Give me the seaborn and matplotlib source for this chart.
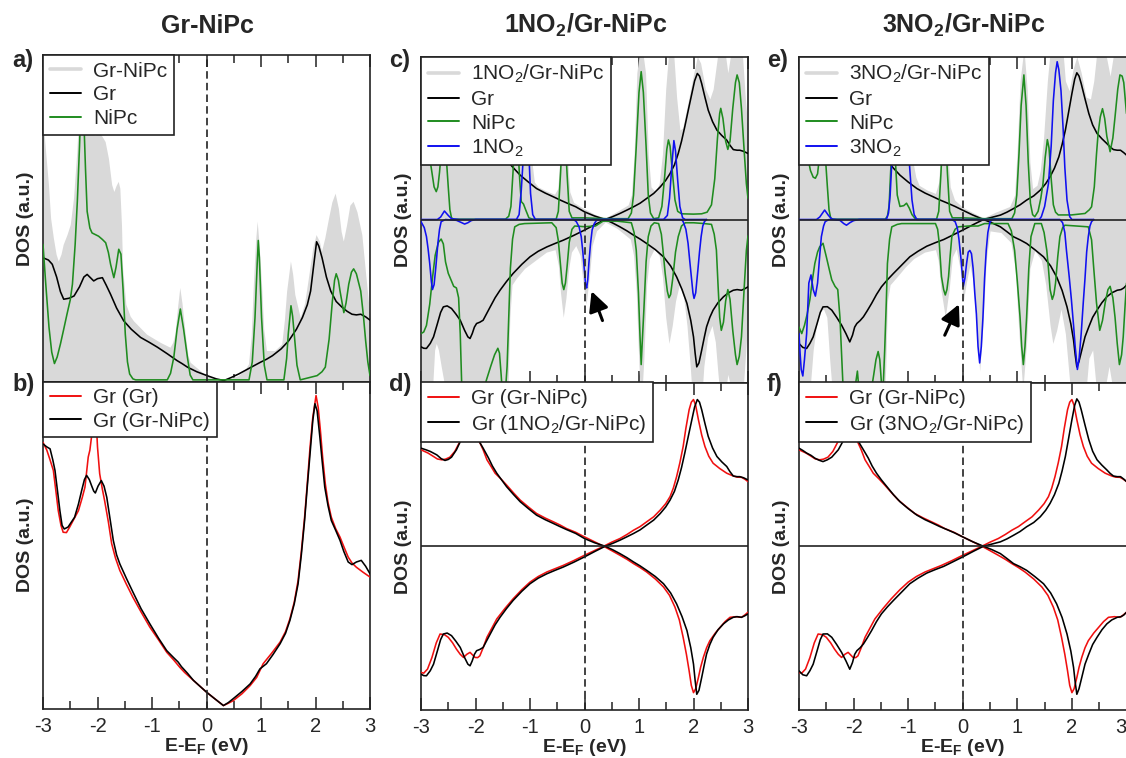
import numpy as np
import matplotlib
matplotlib.use("Agg")
import matplotlib.pyplot as plt
from matplotlib.lines import Line2D
from matplotlib.ticker import MultipleLocator, FixedLocator
import seaborn as sns

# ---------------------------------------------------------------- data
# energies E-E_F (eV) and DOS (arb. units); columns: (E, DOS)

# Gr-NiPc (spin-unpolarised)
a_total = np.array([
    (-3.00, 8.0), (-2.95, 7.0), (-2.90, 6.03), (-2.86, 5.0), (-2.81, 4.40), (-2.76, 3.9),
    (-2.72, 3.69), (-2.67, 3.9), (-2.63, 4.20), (-2.56, 4.5), (-2.50, 4.81), (-2.44, 5.62),
    (-2.38, 7.04), (-2.32, 9.0), (-2.27, 9.5), (-2.23, 8.0), (-2.14, 7.6), (-2.05, 7.55),
    (-1.95, 7.6), (-1.86, 7.35), (-1.80, 6.84), (-1.74, 6.03), (-1.70, 5.82), (-1.66, 6.0),
    (-1.62, 6.13), (-1.59, 5.92), (-1.56, 4.8), (-1.54, 3.49), (-1.48, 2.37), (-1.40, 2.0),
    (-1.34, 1.86), (-1.10, 1.45), (-0.85, 1.20), (-0.67, 1.05), (-0.62, 1.2), (-0.58, 1.45),
    (-0.53, 2.3), (-0.49, 2.88), (-0.45, 2.4), (-0.39, 1.45), (-0.34, 0.8), (-0.30, 0.59),
    (-0.12, 0.34), (0.00, 0.18), (0.31, 0.03), (0.58, 0.18), (0.70, 0.35), (0.77, 0.54),
    (0.82, 1.4), (0.86, 2.98), (0.90, 4.3), (0.93, 4.91), (0.96, 4.3), (1.01, 2.98),
    (1.05, 1.6), (1.10, 0.95), (1.25, 0.95), (1.38, 1.15), (1.43, 1.9), (1.47, 2.77),
    (1.54, 3.69), (1.58, 3.3), (1.62, 2.67), (1.72, 1.96), (1.80, 2.4), (1.87, 3.18),
    (1.95, 4.1), (2.01, 4.50), (2.07, 4.3), (2.11, 3.99), (2.17, 4.4), (2.24, 5.01),
    (2.30, 5.5), (2.36, 5.77), (2.42, 5.3), (2.47, 4.6), (2.51, 4.30), (2.57, 4.8),
    (2.63, 5.4), (2.69, 5.52), (2.76, 5.2), (2.85, 4.50), (2.92, 3.3), (3.00, 1.96)])

a_gr = np.array([
    (-3.00, 3.79), (-2.90, 3.72), (-2.83, 3.59), (-2.75, 3.2), (-2.68, 2.75), (-2.62, 2.52),
    (-2.52, 2.55), (-2.43, 2.62), (-2.33, 2.9), (-2.25, 3.2), (-2.19, 3.28), (-2.13, 3.18),
    (-2.07, 3.08), (-2.00, 3.15), (-1.91, 3.18), (-1.84, 2.95), (-1.76, 2.67), (-1.65, 2.25),
    (-1.52, 1.86), (-1.38, 1.6), (-1.21, 1.35), (-1.05, 1.2), (-0.90, 1.05), (-0.72, 0.85),
    (-0.54, 0.64), (-0.45, 0.55), (-0.35, 0.44), (-0.18, 0.3), (0.01, 0.18), (0.18, 0.08),
    (0.32, 0.03), (0.45, 0.12), (0.59, 0.23), (0.80, 0.42), (0.99, 0.59), (1.10, 0.68),
    (1.21, 0.79), (1.37, 1.0), (1.51, 1.25), (1.65, 1.6), (1.76, 1.96), (1.85, 2.35),
    (1.91, 2.77), (1.97, 3.6), (2.02, 4.28), (2.06, 4.15), (2.12, 3.79), (2.20, 3.2),
    (2.28, 2.77), (2.38, 2.45), (2.49, 2.27), (2.58, 2.15), (2.67, 2.06), (2.75, 2.04),
    (2.83, 2.06), (2.92, 1.98), (3.00, 1.88)])

a_nipc = np.array([
    (-3.00, 4.2), (-2.95, 3.0), (-2.89, 1.66), (-2.84, 0.9), (-2.79, 0.55), (-2.74, 0.75),
    (-2.68, 1.15), (-2.62, 1.6), (-2.56, 2.06), (-2.50, 2.5), (-2.46, 2.98), (-2.41, 4.2),
    (-2.37, 5.52), (-2.33, 7.2), (-2.29, 9.2), (-2.26, 8.5), (-2.22, 6.5), (-2.19, 5.21),
    (-2.14, 4.7), (-2.10, 4.55), (-2.04, 4.5), (-1.98, 4.45), (-1.91, 4.35), (-1.85, 4.25),
    (-1.80, 3.95), (-1.76, 3.59), (-1.70, 3.18), (-1.66, 3.5), (-1.61, 4.05), (-1.57, 3.9),
    (-1.53, 2.8), (-1.49, 1.45), (-1.45, 0.6), (-1.41, 0.23), (-1.35, 0.08), (-1.30, 0.05),
    (-0.72, 0.05), (-0.66, 0.25), (-0.60, 0.74), (-0.54, 1.6), (-0.48, 2.22), (-0.42, 1.6),
    (-0.35, 0.74), (-0.30, 0.2), (-0.25, 0.05), (0.78, 0.05), (0.84, 0.6), (0.89, 1.96),
    (0.93, 3.6), (0.95, 4.32), (0.97, 3.8), (1.01, 1.96), (1.06, 0.5), (1.11, 0.05),
    (1.42, 0.05), (1.47, 0.7), (1.50, 1.45), (1.55, 2.32), (1.58, 2.0), (1.61, 1.45),
    (1.66, 0.5), (1.72, 0.05), (2.03, 0.18), (2.12, 0.3), (2.18, 0.44), (2.25, 1.3),
    (2.31, 2.47), (2.35, 3.1), (2.38, 3.30), (2.42, 3.1), (2.45, 2.77), (2.52, 2.11),
    (2.56, 2.4), (2.61, 2.98), (2.66, 3.35), (2.70, 3.45), (2.75, 3.3), (2.83, 2.77),
    (2.88, 2.0), (2.92, 1.25), (2.96, 0.6), (3.00, 0.18)])

# graphene projected DOS, isolated graphene vs Gr-NiPc
b_gr_pristine = np.array([
    (-3.00, 8.14), (-2.93, 7.9), (-2.87, 7.6), (-2.81, 7.28), (-2.76, 6.6), (-2.72, 6.05),
    (-2.67, 5.6), (-2.63, 5.39), (-2.57, 5.38), (-2.51, 5.55), (-2.43, 5.8), (-2.35, 6.05),
    (-2.28, 6.45), (-2.23, 6.77), (-2.17, 7.69), (-2.14, 7.9), (-2.11, 8.3), (-2.07, 9.3),
    (-2.05, 9.5), (-2.03, 9.0), (-2.00, 8.0), (-1.96, 7.18), (-1.91, 6.7), (-1.87, 6.36),
    (-1.80, 5.7), (-1.74, 5.04), (-1.67, 4.6), (-1.59, 4.22), (-1.47, 3.8), (-1.35, 3.40),
    (-1.20, 2.95), (-1.04, 2.49), (-0.88, 2.1), (-0.73, 1.72), (-0.60, 1.48), (-0.49, 1.26),
    (-0.40, 1.1), (-0.24, 0.86), (0.00, 0.50), (0.15, 0.3), (0.31, 0.09), (0.40, 0.16),
    (0.49, 0.24), (0.65, 0.45), (0.80, 0.70), (0.92, 0.95), (1.04, 1.37), (1.20, 1.7),
    (1.35, 2.03), (1.45, 2.35), (1.53, 2.74), (1.61, 3.25), (1.68, 3.91), (1.74, 4.8),
    (1.80, 5.85), (1.85, 6.9), (1.90, 7.99), (1.95, 8.9), (2.01, 9.57), (2.05, 9.2),
    (2.09, 8.50), (2.13, 7.7), (2.18, 6.87), (2.23, 6.3), (2.29, 5.85), (2.37, 5.5),
    (2.45, 5.24), (2.52, 4.95), (2.60, 4.63), (2.67, 4.45), (2.75, 4.32), (2.87, 4.17),
    (3.00, 4.02)])

b_gr_in_grnipc = np.array([
    (-3.00, 8.09), (-2.93, 8.0), (-2.87, 7.94), (-2.82, 7.6), (-2.78, 7.28), (-2.73, 6.6),
    (-2.69, 6.05), (-2.65, 5.6), (-2.61, 5.49), (-2.54, 5.55), (-2.48, 5.7), (-2.42, 5.85),
    (-2.35, 6.25), (-2.29, 6.67), (-2.24, 7.0), (-2.20, 7.13), (-2.15, 7.0), (-2.11, 6.82),
    (-2.07, 6.65), (-2.04, 6.59), (-1.99, 6.8), (-1.93, 6.97), (-1.88, 6.8), (-1.83, 6.46),
    (-1.77, 5.8), (-1.71, 5.14), (-1.65, 4.7), (-1.59, 4.42), (-1.47, 3.98), (-1.35, 3.56),
    (-1.20, 3.05), (-1.04, 2.59), (-0.88, 2.15), (-0.73, 1.77), (-0.60, 1.55), (-0.52, 1.42),
    (-0.46, 1.28), (-0.35, 1.08), (-0.24, 0.86), (0.00, 0.50), (0.15, 0.3), (0.31, 0.09),
    (0.40, 0.18), (0.49, 0.30), (0.65, 0.52), (0.80, 0.75), (0.90, 0.98), (0.98, 1.21),
    (1.10, 1.37), (1.22, 1.65), (1.35, 1.98), (1.45, 2.3), (1.53, 2.69), (1.61, 3.2),
    (1.68, 3.81), (1.74, 4.7), (1.80, 5.75), (1.85, 6.8), (1.90, 7.79), (1.95, 8.8),
    (1.99, 9.32), (2.03, 9.1), (2.08, 8.30), (2.12, 7.6), (2.17, 6.77), (2.23, 6.2),
    (2.29, 5.75), (2.37, 5.45), (2.45, 5.14), (2.52, 4.8), (2.60, 4.48), (2.67, 4.4),
    (2.75, 4.48), (2.84, 4.53), (2.92, 4.35), (3.00, 4.12)])

# spin-resolved graphene DOS in Gr-NiPc (spin down stored negative)
gr_grnipc_up = np.array([
    (-3.00, 5.89), (-2.87, 5.69), (-2.77, 5.48), (-2.70, 5.33), (-2.62, 5.28), (-2.55, 5.32),
    (-2.47, 5.44), (-2.38, 5.79), (-2.30, 6.3), (-2.20, 6.9), (-2.10, 7.1), (-2.00, 6.8),
    (-1.93, 6.4), (-1.86, 5.89), (-1.79, 5.28), (-1.71, 4.85), (-1.64, 4.46), (-1.53, 4.1),
    (-1.43, 3.74), (-1.30, 3.25), (-1.18, 2.82), (-1.03, 2.4), (-0.88, 2.00), (-0.72, 1.72),
    (-0.57, 1.49), (-0.45, 1.3), (-0.33, 1.08), (-0.16, 0.85), (0.00, 0.57), (0.18, 0.28),
    (0.35, 0.0), (0.50, 0.25), (0.65, 0.47), (0.78, 0.72), (0.90, 0.98), (1.02, 1.2),
    (1.14, 1.49), (1.27, 1.8), (1.39, 2.21), (1.49, 2.6), (1.57, 3.03), (1.63, 3.55),
    (1.69, 4.25), (1.75, 5.1), (1.81, 6.09), (1.86, 7.2), (1.92, 8.34), (1.96, 8.8),
    (2.00, 8.96), (2.04, 8.6), (2.09, 7.73), (2.15, 6.8), (2.21, 6.09), (2.28, 5.5),
    (2.36, 5.07), (2.48, 4.75), (2.61, 4.46), (2.73, 4.29), (2.80, 4.22), (2.88, 4.21),
    (2.94, 4.1), (3.00, 3.95)])

gr_grnipc_dn = np.array([
    (-3.00, -7.71), (-2.95, -7.75), (-2.88, -7.5), (-2.80, -6.8), (-2.72, -5.9), (-2.65, -5.36),
    (-2.57, -5.4), (-2.50, -5.56), (-2.42, -5.9), (-2.35, -6.28), (-2.28, -6.6), (-2.22, -6.79),
    (-2.16, -6.6), (-2.10, -6.48), (-2.05, -6.65), (-2.01, -6.79), (-1.96, -6.8), (-1.92, -6.69),
    (-1.86, -6.2), (-1.79, -5.56), (-1.70, -5.0), (-1.61, -4.44), (-1.46, -3.8), (-1.31, -3.21),
    (-1.15, -2.65), (-1.00, -2.19), (-0.85, -1.85), (-0.69, -1.57), (-0.54, -1.37), (-0.39, -1.17),
    (-0.20, -0.88), (0.00, -0.55), (0.18, -0.27), (0.35, 0.0), (0.50, -0.27), (0.65, -0.55),
    (0.78, -0.8), (0.90, -1.06), (1.02, -1.3), (1.14, -1.57), (1.30, -2.0), (1.45, -2.49),
    (1.56, -3.0), (1.66, -3.72), (1.74, -4.5), (1.81, -5.56), (1.87, -6.6), (1.92, -7.61),
    (1.96, -8.5), (2.00, -8.94), (2.04, -8.7), (2.09, -8.02), (2.13, -7.4), (2.18, -6.79),
    (2.24, -6.2), (2.30, -5.77), (2.40, -5.3), (2.49, -4.95), (2.58, -4.6), (2.67, -4.34),
    (2.78, -4.3), (2.88, -4.34), (2.94, -4.2), (3.00, -4.03)])

# 1NO2/Gr-NiPc
c_total_up = np.array([
    (-3.00, 11.0), (-2.00, 11.0), (-1.60, 6.5), (-1.50, 5.0), (-1.42, 4.3), (-1.36, 5.0),
    (-1.30, 7.5), (-1.25, 9.0), (-1.18, 8.0), (-1.10, 8.5), (-1.04, 8.0), (-1.00, 5.5),
    (-0.96, 3.4), (-0.92, 2.3), (-0.85, 2.0), (-0.70, 1.75), (-0.55, 1.55), (-0.49, 1.9),
    (-0.45, 3.8), (-0.41, 6.5), (-0.35, 6.5), (-0.31, 3.8), (-0.27, 1.7), (-0.20, 1.05),
    (0.00, 0.65), (0.20, 0.3), (0.38, 0.1), (0.60, 0.5), (0.80, 0.9), (0.86, 1.5),
    (0.91, 4.0), (0.96, 9.0), (1.04, 11.0), (1.12, 9.0), (1.17, 4.0), (1.22, 2.0),
    (1.30, 1.7), (1.37, 2.2), (1.43, 4.0), (1.49, 8.0), (1.55, 10.5), (1.63, 10.5),
    (1.69, 7.5), (1.75, 5.5), (1.80, 5.6), (1.90, 7.2), (2.00, 8.9), (2.07, 10.0),
    (2.13, 9.6), (2.22, 8.0), (2.30, 7.4), (2.36, 8.0), (2.42, 9.5), (2.50, 11.5),
    (2.57, 10.5), (2.63, 9.0), (2.70, 10.5), (2.80, 12.0), (2.88, 11.0), (2.95, 7.5),
    (3.00, 5.5)])

c_total_dn = np.array([
    (-3.00, -12.0), (-2.84, -12.0), (-2.79, -10.5), (-2.75, -8.0), (-2.72, -7.6), (-2.68, -8.0),
    (-2.63, -9.0), (-2.55, -10.5), (-2.45, -11.5), (-2.30, -12.0), (-1.45, -12.0), (-1.40, -10.0),
    (-1.37, -6.0), (-1.33, -4.0), (-1.25, -3.6), (-1.10, -3.0), (-0.90, -2.5), (-0.70, -2.0),
    (-0.54, -1.85), (-0.48, -2.8), (-0.44, -4.5), (-0.39, -6.0), (-0.34, -4.8), (-0.29, -3.0),
    (-0.24, -2.0), (-0.16, -1.6), (-0.08, -2.2), (-0.03, -3.8), (0.03, -5.2), (0.09, -3.5),
    (0.14, -1.6), (0.22, -0.7), (0.38, -0.15), (0.60, -0.55), (0.84, -1.2), (0.90, -2.2),
    (0.95, -4.5), (1.00, -9.0), (1.04, -11.5), (1.09, -8.5), (1.14, -4.0), (1.19, -2.4),
    (1.28, -1.8), (1.37, -2.2), (1.43, -3.5), (1.49, -6.0), (1.55, -7.6), (1.61, -6.5),
    (1.67, -5.0), (1.74, -4.0), (1.82, -4.8), (1.88, -6.5), (1.94, -9.0), (2.00, -12.0),
    (2.06, -14.0), (2.13, -12.0), (2.19, -9.0), (2.26, -7.2), (2.34, -6.5), (2.40, -7.5),
    (2.45, -9.5), (2.51, -11.5), (2.57, -11.0), (2.63, -9.5), (2.70, -10.5), (2.80, -13.0),
    (2.88, -12.0), (2.94, -9.0), (3.00, -6.0)])

gr_1no2_up = np.array([
    (-3.00, 5.99), (-2.90, 5.88), (-2.83, 5.79), (-2.71, 5.58), (-2.63, 5.35), (-2.56, 5.24),
    (-2.50, 5.3), (-2.44, 5.44), (-2.35, 5.89), (-2.25, 6.6), (-2.15, 7.0), (-2.05, 6.9),
    (-1.95, 6.5), (-1.86, 5.99), (-1.76, 5.38), (-1.69, 4.9), (-1.61, 4.46), (-1.52, 4.05),
    (-1.43, 3.64), (-1.30, 3.15), (-1.18, 2.72), (-1.03, 2.3), (-0.88, 1.90), (-0.72, 1.62),
    (-0.57, 1.39), (-0.45, 1.2), (-0.33, 1.02), (-0.16, 0.78), (0.00, 0.47), (0.18, 0.22),
    (0.38, 0.0), (0.52, 0.18), (0.65, 0.37), (0.78, 0.58), (0.90, 0.78), (1.02, 1.0),
    (1.14, 1.29), (1.27, 1.6), (1.39, 2.00), (1.49, 2.4), (1.57, 2.82), (1.65, 3.35),
    (1.72, 4.05), (1.78, 4.8), (1.84, 5.69), (1.91, 6.8), (1.97, 7.73), (2.02, 8.5),
    (2.07, 8.96), (2.11, 8.8), (2.15, 8.34), (2.21, 7.5), (2.27, 6.71), (2.35, 6.0),
    (2.43, 5.48), (2.52, 5.15), (2.61, 4.87), (2.67, 4.55), (2.73, 4.29), (2.80, 4.25),
    (2.85, 4.25), (2.92, 4.18), (3.00, 4.05)])

gr_1no2_dn = np.array([
    (-3.00, -7.81), (-2.95, -7.9), (-2.90, -7.91), (-2.83, -7.6), (-2.77, -7.20), (-2.70, -6.4),
    (-2.64, -5.7), (-2.59, -5.36), (-2.52, -5.3), (-2.44, -5.46), (-2.36, -5.8), (-2.28, -6.18),
    (-2.20, -6.8), (-2.14, -7.2), (-2.10, -7.30), (-2.06, -7.0), (-2.02, -6.6), (-1.98, -6.38),
    (-1.92, -6.3), (-1.86, -6.18), (-1.80, -5.8), (-1.73, -5.36), (-1.64, -4.8), (-1.55, -4.34),
    (-1.43, -3.8), (-1.31, -3.31), (-1.15, -2.75), (-1.00, -2.29), (-0.85, -1.95), (-0.69, -1.68),
    (-0.54, -1.47), (-0.39, -1.27), (-0.20, -0.98), (0.00, -0.65), (0.20, -0.3), (0.38, 0.0),
    (0.52, -0.22), (0.65, -0.45), (0.78, -0.7), (0.90, -0.96), (1.02, -1.2), (1.14, -1.47),
    (1.30, -1.85), (1.45, -2.29), (1.58, -2.85), (1.69, -3.52), (1.79, -4.3), (1.88, -5.15),
    (1.95, -6.2), (2.00, -7.20), (2.03, -8.2), (2.06, -9.04), (2.10, -8.8), (2.15, -8.02),
    (2.20, -7.2), (2.24, -6.58), (2.30, -6.0), (2.36, -5.56), (2.45, -5.1), (2.55, -4.74),
    (2.64, -4.5), (2.73, -4.34), (2.80, -4.3), (2.88, -4.34), (2.94, -4.25), (3.00, -4.13)])

c_nipc_up = np.array([
    (-3.00, 6.0), (-2.92, 5.2), (-2.85, 4.0), (-2.80, 2.9), (-2.76, 2.0), (-2.72, 1.71),
    (-2.69, 2.0), (-2.66, 2.9), (-2.62, 4.5), (-2.58, 5.0), (-2.54, 4.0), (-2.50, 2.0),
    (-2.47, 0.6), (-2.44, 0.1), (-2.40, 0.02), (-1.45, 0.02), (-1.39, 0.2), (-1.35, 0.8),
    (-1.31, 3.0), (-1.27, 5.5), (-1.23, 5.0), (-1.19, 2.5), (-1.16, 1.1), (-1.12, 0.95),
    (-1.08, 0.6), (-1.02, 0.1), (-0.95, 0.02), (-0.52, 0.02), (-0.48, 0.5), (-0.44, 2.8),
    (-0.40, 5.5), (-0.36, 5.5), (-0.32, 2.8), (-0.28, 0.5), (-0.23, 0.1), (0.00, 0.1),
    (0.40, 0.05), (0.80, 0.05), (0.86, 0.4), (0.90, 1.5), (0.95, 4.5), (1.00, 7.8),
    (1.04, 9.07), (1.08, 7.8), (1.13, 4.5), (1.17, 1.5), (1.21, 0.4), (1.27, 0.05),
    (1.36, 0.1), (1.42, 0.8), (1.47, 2.6), (1.51, 4.3), (1.54, 4.88), (1.57, 4.5),
    (1.61, 3.0), (1.66, 1.2), (1.71, 0.5), (1.78, 0.35), (2.00, 0.33), (2.15, 0.35),
    (2.25, 0.45), (2.33, 0.9), (2.39, 2.5), (2.44, 5.0), (2.48, 6.5), (2.50, 6.82),
    (2.54, 6.2), (2.59, 4.8), (2.63, 4.3), (2.67, 4.8), (2.72, 6.8), (2.77, 8.4),
    (2.80, 8.87), (2.84, 8.4), (2.88, 6.8), (2.93, 4.2), (2.97, 2.2), (3.00, 1.3)])

c_nipc_dn = np.array([
    (-3.00, -7.0), (-2.95, -6.9), (-2.90, -6.5), (-2.84, -5.2), (-2.79, -3.6), (-2.74, -2.2),
    (-2.68, -1.4), (-2.63, -1.2), (-2.59, -1.5), (-2.55, -2.6), (-2.50, -3.3), (-2.45, -3.7),
    (-2.40, -4.1), (-2.35, -4.2), (-2.31, -4.8), (-2.28, -7.0), (-2.25, -10.5), (-2.00, -12.0),
    (-1.85, -10.5), (-1.80, -9.85), (-1.72, -9.0), (-1.65, -8.3), (-1.59, -7.9), (-1.56, -8.2),
    (-1.53, -9.5), (-1.50, -11.0), (-1.46, -11.0), (-1.42, -9.0), (-1.39, -6.0), (-1.36, -3.0),
    (-1.32, -1.2), (-1.28, -0.45), (-1.20, -0.3), (-1.10, -0.25), (-0.60, -0.2), (-0.52, -0.5),
    (-0.48, -1.3), (-0.44, -2.8), (-0.41, -3.9), (-0.38, -4.3), (-0.35, -3.9), (-0.32, -2.9),
    (-0.28, -1.4), (-0.23, -0.6), (-0.18, -0.4), (0.00, -0.44), (0.20, -0.4), (0.34, -0.1),
    (0.60, -0.1), (0.86, -0.2), (0.91, -0.8), (0.95, -1.9), (0.99, -4.5), (1.02, -7.3),
    (1.04, -8.9), (1.06, -7.5), (1.09, -5.5), (1.13, -2.6), (1.17, -1.05), (1.22, -0.4),
    (1.28, -0.2), (1.36, -0.25), (1.41, -0.9), (1.44, -1.87), (1.48, -3.3), (1.52, -4.4),
    (1.55, -4.8), (1.58, -4.6), (1.62, -3.6), (1.67, -2.0), (1.72, -1.05), (1.78, -0.4),
    (1.85, -0.2), (2.00, -0.2), (2.20, -0.25), (2.33, -0.3), (2.38, -0.9), (2.42, -1.87),
    (2.45, -4.0), (2.48, -6.0), (2.51, -6.8), (2.55, -6.3), (2.59, -5.0), (2.63, -4.3),
    (2.67, -4.9), (2.72, -6.8), (2.77, -8.3), (2.80, -8.9), (2.84, -8.4), (2.88, -7.2),
    (2.93, -4.2), (2.97, -1.9), (3.00, -1.0)])

c_no2_up = np.array([
    (-3.00, 0.0), (-2.70, 0.0), (-2.64, 0.15), (-2.57, 0.52), (-2.50, 0.25), (-2.44, 0.05),
    (-2.30, 0.0), (-1.25, 0.0), (-1.20, 0.3), (-1.16, 1.8), (-1.12, 4.0), (-1.07, 5.0),
    (-1.02, 4.0), (-0.99, 1.6), (-0.95, 0.3), (-0.90, 0.0), (1.45, 0.0), (1.52, 0.25),
    (1.56, 1.3), (1.60, 3.2), (1.64, 4.84), (1.67, 4.2), (1.71, 2.4), (1.75, 0.8),
    (1.80, 0.1), (1.85, 0.0), (2.24, 0.0)])

c_no2_dn = np.array([
    (-3.00, -0.13), (-2.94, -0.5), (-2.90, -1.05), (-2.87, -1.8), (-2.84, -2.7), (-2.81, -3.8),
    (-2.79, -4.3), (-2.76, -4.0), (-2.73, -3.0), (-2.69, -1.46), (-2.66, -0.6), (-2.63, -0.13),
    (-2.55, 0.0), (-2.35, -0.05), (-2.25, -0.2), (-2.20, -0.28), (-2.14, -0.2), (-2.08, -0.07),
    (-2.00, 0.0), (-0.20, 0.0), (-0.15, -0.13), (-0.10, -0.45), (-0.06, -1.05), (-0.03, -2.0),
    (0.00, -3.2), (0.02, -4.0), (0.04, -4.2), (0.06, -3.7), (0.08, -2.7), (0.11, -1.5),
    (0.14, -0.64), (0.18, -0.25), (0.22, -0.05), (0.30, 0.0), (1.78, 0.0), (1.81, -0.13),
    (1.86, -0.6), (1.90, -1.46), (1.93, -2.5), (1.96, -3.5), (1.99, -4.5), (2.01, -4.84),
    (2.04, -4.5), (2.08, -3.1), (2.11, -2.0), (2.14, -1.05), (2.17, -0.4), (2.20, -0.13),
    (2.24, 0.0)])

# 3NO2/Gr-NiPc
e_total_up = np.array([
    (-3.00, 11.0), (-1.60, 8.0), (-1.45, 6.0), (-1.38, 5.0), (-1.32, 7.5), (-1.25, 9.5),
    (-1.10, 8.0), (-1.04, 8.5), (-0.97, 6.0), (-0.91, 3.5), (-0.86, 2.6), (-0.80, 2.1),
    (-0.65, 1.8), (-0.50, 1.6), (-0.44, 2.3), (-0.40, 4.5), (-0.34, 6.5), (-0.28, 4.5),
    (-0.23, 2.0), (-0.15, 1.2), (0.00, 0.75), (0.20, 0.4), (0.38, 0.1), (0.60, 0.45),
    (0.86, 0.8), (0.95, 1.5), (1.00, 4.5), (1.05, 8.5), (1.12, 10.5), (1.18, 8.0),
    (1.23, 3.5), (1.28, 1.9), (1.36, 2.1), (1.42, 3.0), (1.48, 5.0), (1.55, 8.5),
    (1.62, 11.0), (1.73, 12.5), (1.82, 11.0), (1.88, 8.5), (1.95, 7.9), (2.02, 9.2),
    (2.09, 10.0), (2.17, 9.0), (2.26, 7.5), (2.34, 7.4), (2.40, 8.5), (2.48, 11.0),
    (2.56, 12.0), (2.63, 10.0), (2.70, 8.8), (2.78, 10.5), (2.88, 13.0), (2.95, 12.5),
    (3.00, 11.0)])

e_total_dn = np.array([
    (-3.00, -14.0), (-2.88, -13.0), (-2.80, -10.5), (-2.74, -8.0), (-2.68, -6.5), (-2.62, -5.6),
    (-2.55, -5.5), (-2.49, -6.0), (-2.44, -8.5), (-2.38, -11.0), (-2.30, -12.0), (-1.45, -12.0),
    (-1.41, -9.0), (-1.38, -5.0), (-1.33, -4.0), (-1.20, -3.5), (-1.05, -2.9), (-0.90, -2.4),
    (-0.70, -2.0), (-0.50, -1.85), (-0.45, -2.5), (-0.40, -4.3), (-0.32, -6.0), (-0.25, -4.3),
    (-0.19, -2.3), (-0.12, -1.8), (-0.05, -3.0), (0.01, -5.0), (0.07, -3.8), (0.13, -2.8),
    (0.19, -3.8), (0.25, -6.5), (0.31, -9.3), (0.37, -6.5), (0.43, -2.5), (0.50, -0.7),
    (0.70, -0.8), (0.88, -1.4), (0.96, -3.0), (1.03, -7.0), (1.10, -10.5), (1.17, -7.5),
    (1.23, -3.0), (1.32, -1.9), (1.44, -2.5), (1.52, -4.0), (1.60, -6.5), (1.65, -7.6),
    (1.72, -6.8), (1.80, -5.5), (1.88, -7.0), (1.96, -10.0), (2.05, -14.0), (2.13, -16.0),
    (2.22, -12.0), (2.31, -8.5), (2.38, -8.0), (2.45, -10.5), (2.52, -12.5), (2.60, -10.5),
    (2.68, -9.0), (2.78, -11.0), (2.87, -14.0), (2.95, -12.0), (3.00, -9.0)])

gr_3no2_up = np.array([
    (-3.00, 5.99), (-2.93, 5.85), (-2.86, 5.69), (-2.78, 5.55), (-2.71, 5.38), (-2.63, 5.25),
    (-2.56, 5.17), (-2.48, 5.28), (-2.40, 5.44), (-2.28, 5.89), (-2.18, 6.5), (-2.05, 6.9),
    (-1.93, 6.5), (-1.82, 5.89), (-1.73, 5.38), (-1.66, 4.9), (-1.58, 4.46), (-1.49, 4.05),
    (-1.39, 3.64), (-1.27, 3.15), (-1.15, 2.72), (-1.00, 2.3), (-0.84, 1.90), (-0.69, 1.62),
    (-0.54, 1.39), (-0.42, 1.2), (-0.29, 1.02), (-0.14, 0.8), (0.00, 0.57), (0.18, 0.28),
    (0.38, 0.0), (0.53, 0.13), (0.69, 0.27), (0.81, 0.45), (0.93, 0.67), (1.05, 0.9),
    (1.17, 1.19), (1.30, 1.45), (1.42, 1.80), (1.52, 2.2), (1.60, 2.62), (1.68, 3.15),
    (1.76, 3.84), (1.82, 4.6), (1.88, 5.48), (1.94, 6.6), (2.00, 7.73), (2.05, 8.6),
    (2.09, 9.00), (2.13, 8.8), (2.17, 8.34), (2.24, 7.4), (2.31, 6.50), (2.38, 5.8),
    (2.46, 5.28), (2.55, 4.95), (2.64, 4.66), (2.70, 4.45), (2.76, 4.29), (2.83, 4.25),
    (2.89, 4.25), (2.95, 4.1), (3.00, 3.95)])

gr_3no2_dn = np.array([
    (-3.00, -7.61), (-2.93, -7.85), (-2.86, -7.91), (-2.80, -7.6), (-2.74, -7.20), (-2.67, -6.4),
    (-2.61, -5.7), (-2.56, -5.36), (-2.48, -5.35), (-2.40, -5.56), (-2.31, -6.0), (-2.22, -6.48),
    (-2.14, -7.0), (-2.07, -7.51), (-2.02, -7.1), (-1.98, -6.6), (-1.94, -6.38), (-1.88, -6.2),
    (-1.82, -5.97), (-1.75, -5.6), (-1.67, -5.15), (-1.58, -4.6), (-1.49, -4.13), (-1.38, -3.7),
    (-1.27, -3.31), (-1.12, -2.8), (-0.97, -2.29), (-0.82, -1.95), (-0.66, -1.64), (-0.50, -1.42),
    (-0.35, -1.23), (-0.18, -0.95), (0.00, -0.65), (0.20, -0.3), (0.38, 0.0), (0.53, -0.2),
    (0.69, -0.45), (0.81, -0.75), (0.93, -1.06), (1.05, -1.25), (1.17, -1.47), (1.32, -1.85),
    (1.48, -2.29), (1.61, -2.85), (1.72, -3.52), (1.82, -4.35), (1.91, -5.36), (1.98, -6.4),
    (2.03, -7.40), (2.06, -8.3), (2.09, -9.04), (2.13, -8.7), (2.18, -8.02), (2.24, -7.2),
    (2.31, -6.58), (2.38, -6.0), (2.46, -5.56), (2.55, -5.1), (2.64, -4.74), (2.73, -4.5),
    (2.83, -4.34), (2.90, -4.3), (2.95, -4.2), (3.00, -4.03)])

e_nipc_up = np.array([
    (-3.00, 6.0), (-2.92, 5.2), (-2.85, 4.0), (-2.79, 3.0), (-2.74, 2.6), (-2.70, 2.53),
    (-2.66, 2.8), (-2.62, 4.0), (-2.57, 5.0), (-2.52, 4.0), (-2.48, 2.0), (-2.45, 0.6),
    (-2.42, 0.1), (-2.38, 0.02), (-1.42, 0.02), (-1.38, 0.2), (-1.35, 0.8), (-1.32, 3.0),
    (-1.28, 5.0), (-1.24, 4.0), (-1.20, 1.5), (-1.15, 0.8), (-1.08, 0.85), (-1.03, 1.0),
    (-0.98, 0.7), (-0.93, 0.3), (-0.87, 0.05), (-0.80, 0.02), (-0.48, 0.02), (-0.44, 0.5),
    (-0.40, 2.8), (-0.36, 5.5), (-0.32, 5.5), (-0.28, 2.8), (-0.24, 0.5), (-0.19, 0.1),
    (0.00, 0.1), (0.40, 0.05), (0.90, 0.05), (0.95, 0.4), (0.99, 1.5), (1.03, 4.0),
    (1.07, 7.0), (1.12, 8.87), (1.16, 7.0), (1.20, 3.5), (1.24, 1.0), (1.28, 0.3),
    (1.32, 0.17), (1.38, 0.5), (1.43, 1.3), (1.47, 2.2), (1.51, 3.8), (1.55, 4.9),
    (1.58, 4.4), (1.62, 2.5), (1.66, 0.9), (1.70, 0.45), (1.75, 0.28), (1.99, 0.28),
    (2.24, 0.37), (2.32, 0.6), (2.36, 0.78), (2.41, 2.0), (2.45, 4.0), (2.48, 5.29),
    (2.52, 6.3), (2.56, 6.8), (2.60, 6.2), (2.64, 5.1), (2.70, 4.16), (2.75, 5.0),
    (2.79, 6.3), (2.84, 8.0), (2.88, 8.87), (2.92, 8.8), (2.95, 8.4), (3.00, 6.5)])

e_nipc_dn = np.array([
    (-3.00, -6.6), (-2.95, -7.0), (-2.90, -6.5), (-2.85, -5.8), (-2.80, -4.9), (-2.75, -3.6),
    (-2.71, -2.7), (-2.66, -2.0), (-2.62, -1.67), (-2.56, -1.46), (-2.50, -2.28), (-2.45, -3.0),
    (-2.40, -3.7), (-2.34, -4.1), (-2.29, -4.3), (-2.25, -6.0), (-2.19, -10.5), (-2.00, -11.0),
    (-1.96, -10.0), (-1.93, -9.3), (-1.90, -10.5), (-1.70, -11.0), (-1.63, -9.5), (-1.59, -8.6),
    (-1.55, -8.1), (-1.52, -8.6), (-1.49, -10.0), (-1.46, -10.5), (-1.43, -8.0), (-1.40, -5.0),
    (-1.38, -2.7), (-1.34, -1.2), (-1.30, -0.45), (-1.20, -0.3), (-1.12, -0.25), (-0.50, -0.25),
    (-0.46, -0.6), (-0.43, -1.46), (-0.39, -3.5), (-0.35, -4.3), (-0.32, -4.63), (-0.29, -4.3),
    (-0.26, -3.5), (-0.23, -2.2), (-0.20, -1.05), (-0.14, -0.6), (-0.08, -0.45), (0.10, -0.4),
    (0.28, -0.4), (0.40, -0.25), (0.83, -0.25), (0.89, -0.7), (0.95, -1.9), (1.00, -3.8),
    (1.05, -6.0), (1.08, -7.8), (1.11, -8.9), (1.14, -7.8), (1.17, -6.0), (1.21, -3.0),
    (1.25, -1.05), (1.32, -0.25), (1.44, -0.25), (1.49, -0.8), (1.54, -1.9), (1.57, -3.0),
    (1.60, -4.3), (1.64, -4.9), (1.67, -4.6), (1.70, -3.9), (1.74, -2.3), (1.78, -1.05),
    (1.83, -0.5), (1.87, -0.35), (2.30, -0.45), (2.36, -1.25), (2.40, -3.0), (2.45, -5.1),
    (2.51, -6.8), (2.56, -6.2), (2.61, -5.1), (2.66, -4.3), (2.70, -4.1), (2.75, -4.8),
    (2.79, -6.0), (2.83, -7.6), (2.87, -8.9), (2.91, -8.3), (2.94, -7.2), (2.97, -5.5),
    (3.00, -3.9)])

e_no2_up = np.array([
    (-3.00, 0.0), (-2.68, 0.0), (-2.62, 0.15), (-2.53, 0.58), (-2.46, 0.25), (-2.40, 0.03),
    (-2.30, 0.0), (-1.40, 0.0), (-1.36, 0.4), (-1.33, 1.5), (-1.30, 3.5), (-1.26, 6.0),
    (-1.18, 5.0), (-1.12, 4.0), (-1.05, 5.5), (-1.00, 4.5), (-0.96, 2.6), (-0.93, 1.2),
    (-0.89, 0.3), (-0.84, 0.0), (1.40, 0.0), (1.44, 0.17), (1.50, 0.8), (1.57, 2.2),
    (1.62, 4.5), (1.66, 7.3), (1.70, 9.0), (1.73, 9.68), (1.76, 9.2), (1.80, 7.9),
    (1.84, 5.5), (1.87, 3.2), (1.91, 1.2), (1.96, 0.17), (2.00, 0.0), (2.40, 0.0)])

e_no2_dn = np.array([
    (-3.00, -7.0), (-2.98, -8.2), (-2.96, -9.2), (-2.93, -9.6), (-2.90, -8.6), (-2.86, -7.0),
    (-2.82, -3.9), (-2.78, -3.4), (-2.74, -4.3), (-2.70, -4.7), (-2.66, -3.9), (-2.62, -2.2),
    (-2.59, -1.05), (-2.55, -0.4), (-2.52, -0.13), (-2.45, 0.0), (-2.25, -0.05), (-2.18, -0.25),
    (-2.13, -0.35), (-2.07, -0.2), (-2.00, -0.07), (-1.90, 0.0), (-0.20, 0.0), (-0.14, -0.13),
    (-0.10, -0.5), (-0.07, -1.2), (-0.03, -2.5), (0.01, -4.1), (0.04, -3.6), (0.07, -2.7),
    (0.10, -2.0), (0.13, -1.9), (0.16, -2.1), (0.19, -3.0), (0.22, -4.5), (0.25, -5.8),
    (0.28, -7.8), (0.31, -8.8), (0.34, -7.8), (0.37, -6.0), (0.40, -3.6), (0.43, -1.9),
    (0.46, -0.8), (0.50, -0.13), (0.55, 0.0), (1.78, 0.0), (1.83, -0.2), (1.87, -0.8),
    (1.90, -1.9), (1.95, -3.5), (1.99, -4.9), (2.03, -6.5), (2.06, -7.8), (2.10, -9.2),
    (2.13, -8.6), (2.17, -7.0), (2.21, -5.0), (2.24, -3.6), (2.27, -2.0), (2.30, -1.05),
    (2.33, -0.4), (2.36, -0.13), (2.40, 0.0)])

# text
column_titles = ["Gr-NiPc", r"1NO$_\mathbf{2}$/Gr-NiPc", r"3NO$_\mathbf{2}$/Gr-NiPc"]
panel_tags = ["a)", "b)", "c)", "d)", "e)", "f)"]
xtick_values = [-3, -2, -1, 0, 1, 2, 3]
xtick_labels = ["-3", "-2", "-1", "0", "1", "2", "3"]
legend_a = ["Gr-NiPc", "Gr", "NiPc"]
legend_b = ["Gr (Gr)", "Gr (Gr-NiPc)"]
legend_c = [r"1NO$_2$/Gr-NiPc", "Gr", "NiPc", r"1NO$_2$"]
legend_d = ["Gr (Gr-NiPc)", r"Gr (1NO$_2$/Gr-NiPc)"]
legend_e = [r"3NO$_2$/Gr-NiPc", "Gr", "NiPc", r"3NO$_2$"]
legend_f = ["Gr (Gr-NiPc)", r"Gr (3NO$_2$/Gr-NiPc)"]

# ---------------------------------------------------------------- style
sns.set_theme(style="white")
plt.rcParams["font.family"] = ["Liberation Sans", "DejaVu Sans"]
plt.rcParams["mathtext.fontset"] = "custom"
plt.rcParams["mathtext.rm"] = "Liberation Sans"
plt.rcParams["mathtext.it"] = "Liberation Sans:italic"
plt.rcParams["mathtext.bf"] = "Liberation Sans:bold"
plt.rcParams["axes.unicode_minus"] = False

GRAY = "#d9d9d9"
GREEN = "#1f8c1f"
BLUE = "#1010f0"
RED = "#f01010"
INK = "#222222"
LW = 1.15

W, H = 1126, 758
fig = plt.figure(figsize=(W / 100, H / 100), dpi=100)


def add_axes(x0, x1, ytop, ybot):
    return fig.add_axes([x0 / W, 1 - ybot / H, (x1 - x0) / W, (ybot - ytop) / H])


cols = [(43, 370), (421, 748), (799, 1126.5)]
rows = [(55, 381.5, 708.5), (56.5, 382.5, 710), (56.5, 382.5, 710)]
axes = []
for (x0, x1), (yt, ym, yb) in zip(cols, rows):
    axes.append((add_axes(x0, x1, yt, ym), add_axes(x0, x1, ym, yb)))


def line(ax, arr, color, lw=LW, z=3):
    sns.lineplot(x=arr[:, 0], y=arr[:, 1], ax=ax, color=color, lw=lw,
                 estimator=None, sort=False, legend=False, zorder=z)


def fill(ax, arr):
    ax.fill_between(arr[:, 0], 0, arr[:, 1], color=GRAY, lw=0, zorder=1)


def style(ax, ylim, bottom_row, edge_col=False):
    ax.set_xlim(-3, 3)
    ax.set_ylim(*ylim)
    ax.xaxis.set_major_locator(FixedLocator(xtick_values))
    ax.xaxis.set_minor_locator(MultipleLocator(0.5))
    ax.tick_params(axis="x", which="both", direction="in", top=True, bottom=True,
                   width=1.1, color=INK, pad=6)
    ax.tick_params(axis="x", which="major", length=8.5)
    ax.tick_params(axis="x", which="minor", length=5.5)
    ax.tick_params(axis="y", which="both", left=False, right=False, labelleft=False)
    if bottom_row:
        ax.set_xticklabels(xtick_labels, fontsize=14.5)
        if edge_col:
            # last label sits at the figure edge; keep it inside
            ax.get_xticklabels()[-1].set_horizontalalignment("right")
        ax.set_xlabel(r"E-E$_\mathbf{F}$ (eV)", fontsize=14, fontweight="bold", labelpad=0)
    else:
        ax.set_xticklabels([])
    ax.set_ylabel("DOS (a.u.)", fontsize=14, fontweight="bold")
    ax.yaxis.set_label_coords(-0.026, 0.5)
    for s in ax.spines.values():
        s.set_linewidth(1.2)
        s.set_color(INK)
    ax.axvline(0, color=INK, lw=1.2, ls=(0, (4.5, 2.5)), zorder=5)


def legend(ax, labels, colors):
    handles = [Line2D([], [], color=c, lw=(2.6 if c == GRAY else 1.4)) for c in colors]
    lg = ax.legend(handles, labels, loc="upper left", bbox_to_anchor=(0, 1),
                   borderaxespad=0, fontsize=15, frameon=True, fancybox=False,
                   framealpha=1, edgecolor=INK, handlelength=1.5,
                   handletextpad=0.6, labelspacing=0.22, borderpad=0.32)
    lg.get_frame().set_linewidth(1.2)
    lg.set_zorder(10)


# a) Gr-NiPc projected DOS
ax = axes[0][0]
fill(ax, a_total)
line(ax, a_gr, "black")
line(ax, a_nipc, GREEN)
style(ax, (0, 10), False)
legend(ax, legend_a, [GRAY, "black", GREEN])

# b) graphene DOS
ax = axes[0][1]
line(ax, b_gr_pristine, RED)
line(ax, b_gr_in_grnipc, "black", z=4)
style(ax, (0, 10), True)
legend(ax, legend_b, [RED, "black"])

# c), e) spin-resolved projected DOS with NO2
spin_sets = [
    (axes[1][0], c_total_up, c_total_dn, gr_1no2_up, gr_1no2_dn, c_nipc_up, c_nipc_dn,
     c_no2_up, c_no2_dn, legend_c, ((0.33, -6.2), (0.13, -4.4))),
    (axes[2][0], e_total_up, e_total_dn, gr_3no2_up, gr_3no2_dn, e_nipc_up, e_nipc_dn,
     e_no2_up, e_no2_dn, legend_e, ((-0.33, -7.1), (-0.07, -5.2))),
]
for (ax, tu, td, gu, gd, nu, nd, ou, od, labels, (tail, head)) in spin_sets:
    fill(ax, tu)
    fill(ax, td)
    line(ax, gu, "black")
    line(ax, gd, "black")
    line(ax, nu, GREEN)
    line(ax, nd, GREEN)
    line(ax, ou, BLUE)
    line(ax, od, BLUE)
    ax.axhline(0, color=INK, lw=1.2, zorder=6)
    style(ax, (-10, 10), False)
    legend(ax, labels, [GRAY, "black", GREEN, BLUE])
    ax.annotate("", xy=head, xytext=tail, zorder=8,
                arrowprops=dict(arrowstyle="-|>,head_length=1.0,head_width=0.5",
                                color="black", lw=2.2, shrinkA=0, shrinkB=0))

# d), f) spin-resolved graphene DOS
for ax, gu, gd, labels, edge in [(axes[1][1], gr_1no2_up, gr_1no2_dn, legend_d, False),
                                 (axes[2][1], gr_3no2_up, gr_3no2_dn, legend_f, True)]:
    line(ax, gr_grnipc_up, RED)
    line(ax, gr_grnipc_dn, RED)
    line(ax, gu, "black", z=4)
    line(ax, gd, "black", z=4)
    ax.axhline(0, color=INK, lw=1.2, zorder=6)
    style(ax, (-10, 10), True, edge_col=edge)
    legend(ax, labels, [RED, "black"])

# column titles and panel tags
for (x0, x1), title in zip(cols[:2] + [(799, 1126)], column_titles):
    fig.text(((x0 + x1) / 2 + 1) / W, 1 - 33 / H, title, ha="center", va="baseline",
             fontsize=18, fontweight="bold")
tag_pos = [(12, 60), (12, 384), (389, 60), (389, 384), (767, 60), (767, 384)]
for (px, py), tag in zip(tag_pos, panel_tags):
    fig.text(px / W, 1 - py / H, tag, ha="left", va="center", fontsize=17, fontweight="bold")

fig.savefig("out.png", dpi=100)
